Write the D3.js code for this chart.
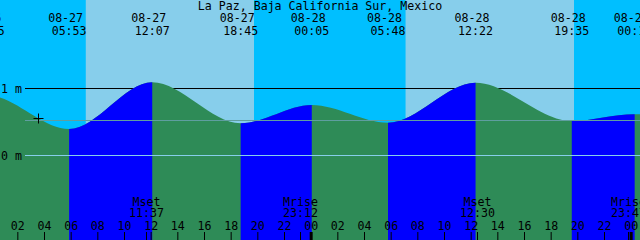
<!DOCTYPE html>
<html>
<head>
<meta charset="utf-8">
<script src="https://cdn.jsdelivr.net/npm/d3@7"></script>
<style>
  body { margin: 0; background: #fff; }
  svg { display: block; }
  text { font-family: "DejaVu Sans Mono", monospace; font-size: 11.6px; fill: #000; }
</style>
</head>
<body>
<svg id="chart" width="640" height="240"></svg>
<script>
// station
const title = "La Paz, Baja California Sur, Mexico"

// high / low tides (local time) and heights in metres
const tideTimes = ["08-26 17:40", "08-26 23:45", "08-27 05:53", "08-27 12:07", "08-27 18:45", "08-28 00:05",
                   "08-28 05:48", "08-28 12:22", "08-28 19:35", "08-29 00:18", "08-29 06:30"]
const tideLevels = [0.45, 0.90, 0.396, 1.093, 0.481, 0.754, 0.49, 1.087, 0.515, 0.615, 0.50]

// daylight
const sunrise = ["08-27 07:08", "08-28 07:07"]
const sunset = ["08-27 19:45", "08-28 19:45"]

// moon
const moonNames = ["Mset", "Mrise", "Mset", "Mrise"]
const moonTimes = ["08-27 11:37", "08-27 23:12", "08-28 12:30", "08-28 23:47"]

// depth lines
const depthMarks = [0, 1]
const meanLevel = 0.522

// current time marker
const nowTime = "08-27 03:33"
const nowLevel = 0.56

const startTime = "08-27 00:42"
const endTime = "08-29 00:42"

let parse = d3.timeParse("%m-%d %H:%M")
let svg = d3.select("#chart")
let width = 640, height = 240

let x = d3.scaleTime()
  .domain([parse(startTime), parse(endTime)])
  .range([0, width])

let y = d3.scaleLinear()
  .domain([0, 1])
  .range([155.5, 88.5])

let tides = tideTimes.map((t, i) => ({ t: parse(t), level: tideLevels[i], label: t }))

// night sky everywhere, then day
svg.append("rect").attr("width", width).attr("height", height).attr("fill", "#00bfff")
svg.selectAll(".day")
  .data(sunrise)
  .enter()
  .append("rect")
  .attr("class", "day")
  .attr("x", d => x(parse(d)))
  .attr("y", 0)
  .attr("width", (d, i) => x(parse(sunset[i])) - x(parse(d)))
  .attr("height", height)
  .attr("fill", "#87ceeb")

// 1 m line sits behind the water
svg.append("line")
  .attr("x1", 25).attr("x2", width)
  .attr("y1", y(1)).attr("y2", y(1))
  .attr("stroke", "#000")

let area = d3.area()
  .curve(d3.curveMonotoneX)
  .x(d => x(d.t))
  .y0(height)
  .y1(d => y(d.level))

let defs = svg.append("defs")
let rising = []
for (let i = 0; i < tides.length - 1; i++) {
  if (tides[i + 1].level > tides[i].level) rising.push([tides[i].t, tides[i + 1].t])
}
rising.forEach((r, i) => {
  defs.append("clipPath").attr("id", "flood" + i)
    .append("rect")
    .attr("x", x(r[0])).attr("y", 0)
    .attr("width", x(r[1]) - x(r[0])).attr("height", height)
})

// ebb everywhere, flood on top where rising
svg.append("path").datum(tides).attr("d", area).attr("fill", "#2e8b57")
rising.forEach((r, i) => {
  svg.append("path").datum(tides).attr("d", area)
    .attr("fill", "#0000ff")
    .attr("clip-path", "url(#flood" + i + ")")
})

// mean level and datum lines over the water
svg.append("line")
  .attr("x1", 25).attr("x2", width)
  .attr("y1", Math.floor(y(meanLevel)) + 0.5).attr("y2", Math.floor(y(meanLevel)) + 0.5)
  .attr("stroke", "#5f9ea0")
svg.append("line")
  .attr("x1", 25).attr("x2", width)
  .attr("y1", y(0)).attr("y2", y(0))
  .attr("stroke", "#87ceeb")

svg.selectAll(".depth")
  .data(depthMarks)
  .enter()
  .append("text")
  .attr("class", "depth")
  .attr("x", 1)
  .attr("y", d => y(d) + 4)
  .text(d => d + " m")

// now marker
let nx = Math.round(x(parse(nowTime))) + 0.5
let ny = Math.round(y(nowLevel)) + 0.5
svg.append("path")
  .attr("d", `M${nx - 5},${ny}H${nx + 5}M${nx},${ny - 5}V${ny + 5}`)
  .attr("stroke", "#000")

// title and tide times
svg.append("text")
  .attr("x", width / 2).attr("y", 10)
  .attr("text-anchor", "middle")
  .text(title)

let fmtDate = d3.timeFormat("%m-%d")
let fmtTime = d3.timeFormat("%H:%M")
let tl = svg.selectAll(".tidelabel")
  .data(tides)
  .enter()
  .append("g")
  .attr("class", "tidelabel")
  .attr("transform", d => `translate(${x(d.t)},0)`)
tl.append("text").attr("y", 22).attr("dx", -3.5).attr("text-anchor", "middle").text(d => fmtDate(d.t))
tl.append("text").attr("y", 35).attr("text-anchor", "middle").text(d => fmtTime(d.t))

// hour axis along the bottom
let axis = d3.axisTop(x)
  .ticks(d3.timeHour.every(2))
  .tickFormat(d3.timeFormat("%H"))
  .tickSize(8)
  .tickPadding(2)
let ax = svg.append("g")
  .attr("transform", `translate(0,${height})`)
  .call(axis)
ax.select(".domain").remove()
ax.selectAll(".tick line")
  .attr("stroke", "#000")
  .attr("stroke-width", d => d.getHours() === 0 ? 3 : 1)
ax.selectAll(".tick text")
  .attr("fill", "#000")
  .style("font-family", "DejaVu Sans Mono, monospace")
  .style("font-size", "11.6px")

// moon events
let moon = svg.selectAll(".moon")
  .data(moonTimes.map((t, i) => ({ t: parse(t), name: moonNames[i] })))
  .enter()
  .append("g")
  .attr("class", "moon")
  .attr("transform", d => `translate(${Math.round(x(d.t)) + 0.5},0)`)
moon.append("line").attr("y1", 232).attr("y2", height).attr("stroke", "#000")
moon.append("text").attr("y", 206).attr("text-anchor", "middle").text(d => d.name)
moon.append("text").attr("y", 217).attr("text-anchor", "middle").text(d => fmtTime(d.t))
</script>
</body>
</html>
